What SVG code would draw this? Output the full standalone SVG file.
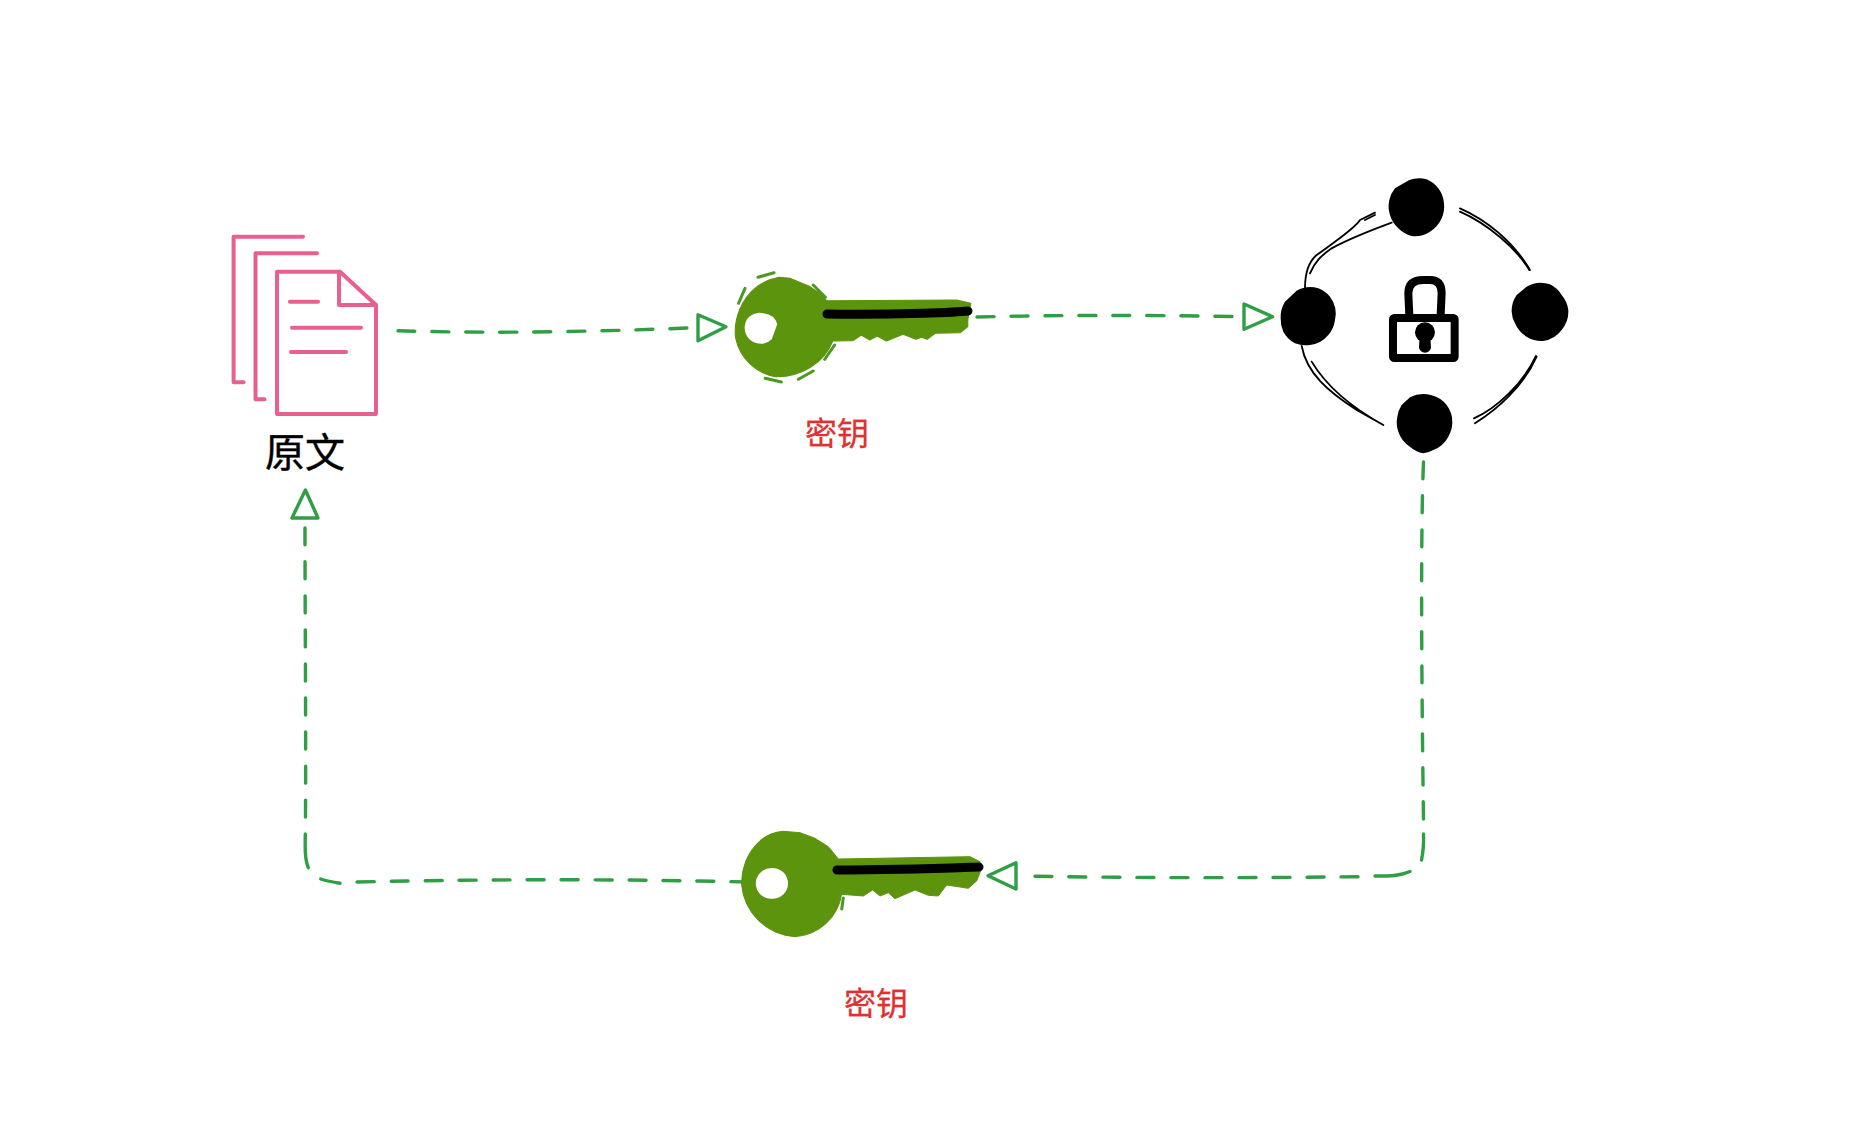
<svg xmlns="http://www.w3.org/2000/svg" width="1850" height="1126" viewBox="0 0 1850 1126">
<style>
.doc{fill:none;stroke:#e8608f;stroke-width:4;stroke-linecap:round;stroke-linejoin:round}
.conn{fill:none;stroke:#2f9e44;stroke-width:3.4;stroke-linecap:round;stroke-linejoin:round}
.dash{stroke-dasharray:17 17}
.key{fill:#5c940d;stroke:#5c940d;stroke-width:3;stroke-linejoin:round}
.bar{fill:none;stroke:#000;stroke-width:9;stroke-linecap:round}
.hole{fill:#fff}
.halo{fill:none;stroke:#4b9a25;stroke-width:3;stroke-linecap:round}
.ring{fill:none;stroke:#000;stroke-width:5.5;stroke-linecap:round;stroke-linejoin:round}
.red{font-family:"Noto Sans CJK SC","Liberation Sans",sans-serif;font-size:32px;fill:#e03131;stroke:#e03131;stroke-width:.3;text-anchor:middle}
.blk{font-family:"Noto Sans CJK SC","Liberation Sans",sans-serif;font-size:40px;fill:#000;text-anchor:middle;stroke:#000;stroke-width:.4}
</style>
<rect width="1850" height="1126" fill="#fff"/>
<g id="connectors">
<path class="conn dash" d="M398 330.7C470 333 560 333 688 328"/>
<path class="conn" d="M698 314.7L726 326.7L698 340.7Z"/>
<path class="conn dash" d="M977 317C1060 315 1140 315 1233 316.500"/>
<path class="conn" d="M1244 304L1272.600 316.700L1244 329.300Z"/>
<path class="conn dash" d="M1423.500 462C1421 520 1421 640 1423.500 820"/>
<path class="conn" d="M1423.500 834C1424 848 1423 853 1421.500 860M1410 871.500C1400 876 1390 876 1375 876"/>
<path class="conn dash" d="M1358 876.700C1250 878 1140 878 1035 876.300"/>
<path class="conn" d="M1016 862.700L988 875.700L1016 889Z"/>
<path class="conn dash" d="M748 882C620 879 500 879 356 882"/>
<path class="conn" d="M340 883.300C332 882 327 881 320.700 879M308.300 867.700C305 860 305 850 305.300 834"/>
<path class="conn dash" d="M305.500 817C306 720 305 620 305 527"/>
<path class="conn" d="M305.400 490L292 518L318 518Z"/>
</g>
<g id="doc">
<path class="doc" d="M303 236.700H233.600V382.300H243.600"/>
<path class="doc" d="M317 253.300H255.500V399.300H264.500"/>
<path class="doc" d="M277 271.700H340L376 305V414H277Z"/>
<path class="doc" d="M339 271.700V305H376"/>
<path class="doc" d="M290 301.700H318M292 327.700H361M291 352H346"/>
<text class="blk" x="305" y="467">原文</text>
</g>
<g id="key1">
<g transform="translate(720 250) scale(.3698 .3333)">
<path class="key" d="M160 82L190 85L240 108L270 130L288 152L640 150L678 160L670 210L670 230L650 248L582 250L560 268L545 262L530 268L495 253L450 273L425 258L405 270L382 255L360 272L305 273A160 160 0 0 1 150 380A130 150 0 0 1 42 262A150 170 0 0 1 100 110A130 130 0 0 1 160 82Z"/>
<path class="hole" d="M118 190A45 45 0 0 1 155 222L140 268A40 40 0 0 1 90 276A50 50 0 0 1 68 222A40 40 0 0 1 118 190Z"/>
</g>
<path class="bar" d="M827 314C900 315 960 312 968 311"/>
<path class="halo" d="M758 277.300L774 272.700M738.500 303.300L745 288.300M813.200 285L825.400 297.300M834.600 345L824.700 359.300M813.200 371L798.400 379.300M765.100 378.300L781.400 382"/>
<text class="red" x="837" y="445">密钥</text>
</g>
<g id="lock">
<g transform="translate(1260 160) scale(.3333)">
<path d="M448 60A85 85 0 0 1 500 58A85 85 0 0 1 535 85A85 85 0 0 1 552 130A85 85 0 0 1 545 175A85 85 0 0 1 510 215A85 85 0 0 1 455 228A85 85 0 0 1 415 205A85 85 0 0 1 390 165A85 85 0 0 1 388 120A85 85 0 0 1 405 85Z"/>
<path d="M800 380A85 85 0 0 1 870 373A85 85 0 0 1 905 405A85 85 0 0 1 925 450A85 85 0 0 1 905 510A85 85 0 0 1 850 543A85 85 0 0 1 800 530A85 85 0 0 1 765 490A85 85 0 0 1 755 455A85 85 0 0 1 770 405Z"/>
<path d="M110 392A85 85 0 0 1 175 385A85 85 0 0 1 210 410A85 85 0 0 1 225 480A85 85 0 0 1 205 525A85 85 0 0 1 150 555A85 85 0 0 1 105 550A85 85 0 0 1 70 515A85 85 0 0 1 62 475A85 85 0 0 1 75 425Z"/>
<path d="M450 712A85 85 0 0 1 515 706A85 85 0 0 1 560 735A85 85 0 0 1 577 790A85 85 0 0 1 565 830A85 85 0 0 1 520 870A85 85 0 0 1 490 880A85 85 0 0 1 450 860A85 85 0 0 1 415 815A85 85 0 0 1 412 770A85 85 0 0 1 425 735Z"/>
<path class="ring" d="M345 158L300 180C285 205 225 245 170 285C140 310 135 350 135 385M395 188C330 212 270 235 215 265C180 290 165 305 150 340M345 165L315 180"/>
<path class="ring" d="M600 145C680 180 760 245 810 330M600 155C680 190 770 265 808 330"/>
<path class="ring" d="M828 588C790 670 710 745 642 775M830 590C790 680 710 750 645 790"/>
<path class="ring" d="M125 558C140 640 205 695 290 750L370 795M155 605C200 680 270 740 370 795"/>
<path fill="none" stroke="#000" stroke-width="24" d="M448 465L445 400Q445 360 490 360H510Q545 360 545 400L542 465"/>
<rect x="399" y="474" width="185" height="120" rx="4" fill="#fff" stroke="#000" stroke-width="24" stroke-linejoin="round"/>
<circle cx="495" cy="517" r="30"/>
<path d="M479 530H511L513 562A18 16 0 0 1 477 562Z"/>
</g>
</g>
<g id="key2">
<g transform="translate(720 810) scale(.3333)">
<path class="key" d="M190 64L240 68L285 85L325 110L355 147L750 140L780 155L783 180L770 213L745 235L680 225L655 258L625 256L585 240L525 266L505 248L480 258L458 240L430 258L365 253A150 150 0 0 1 225 380A170 170 0 0 1 65 225A170 170 0 0 1 120 92A120 120 0 0 1 190 64Z"/>
<path class="hole" d="M155 174A46 46 0 0 1 204 222A46 46 0 0 1 160 266A46 46 0 0 1 110 205A46 46 0 0 1 155 174Z"/>
</g>
<path class="bar" d="M837 870C900 870 950 868 979 867"/>
<path class="halo" d="M843.300 898L841.700 909"/>
<text class="red" x="876" y="1015">密钥</text>
</g>
</svg>
